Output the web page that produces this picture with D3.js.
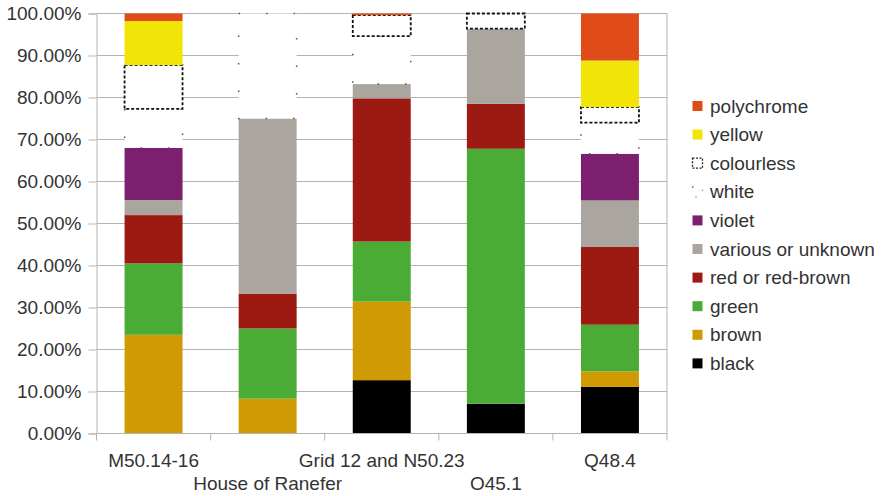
<!DOCTYPE html>
<html>
<head>
<meta charset="utf-8">
<script src="https://cdn.jsdelivr.net/npm/d3@7"></script>
<style>
  html, body { margin: 0; padding: 0; background: #fff; }
  svg { display: block; font-family: "Liberation Sans", Arial, sans-serif; }
</style>
</head>
<body>
<svg id="chart" width="885" height="496"></svg>
<script>
// ---- data (percent of each site) ----
const categories = ["M50.14-16", "House of Ranefer", "Grid 12 and N50.23", "O45.1", "Q48.4"];
const seriesNames = ["black", "brown", "green", "red or red-brown", "various or unknown",
                     "violet", "white", "colourless", "yellow", "polychrome"];
const black      = [0,    0,    12.7, 7.1,  11.1];
const brown      = [23.5, 8.3,  18.7, 0,    3.7];
const green      = [17.0, 16.7, 14.3, 60.7, 11.1];
const redBrown   = [11.5, 8.3,  34.1, 10.7, 18.5];
const various    = [3.6,  41.7, 3.4,  17.9, 11.1];
const violet     = [12.4, 0,    0,    0,    11.1];
const white      = [9.3,  25.0, 11.4, 0,    7.4];
const colourless = [10.4, 0,    5.0,  3.6,  3.7];
const yellow     = [10.5, 0,    0,    0,    11.1];
const polychrome = [1.8,  0,    0.4,  0,    11.2];
const yTicks = [0, 10, 20, 30, 40, 50, 60, 70, 80, 90, 100];

const seriesValues = [black, brown, green, redBrown, various, violet, white, colourless, yellow, polychrome];
const colors = {
  "black": "#000000", "brown": "#d09a02", "green": "#4aab35", "red or red-brown": "#9d1a13",
  "various or unknown": "#aaa59f", "violet": "#7c1f6f", "white": "#ffffff",
  "colourless": "#ffffff", "yellow": "#f3e408", "polychrome": "#e04c17"
};

const rows = categories.map((c, i) => {
  const r = { cat: c };
  seriesNames.forEach((s, k) => r[s] = seriesValues[k][i]);
  return r;
});
const stacked = d3.stack().keys(seriesNames)(rows);

const svg = d3.select("#chart");
const m = { left: 96.5, right: 667, top: 13.5, bottom: 433.5 };

const x = d3.scaleBand().domain(categories).range([m.left, m.right])
  .paddingInner(0.492).paddingOuter(0.246);
const y = d3.scaleLinear().domain([0, 100]).range([m.bottom, m.top]);
const gridColor = "#b3b3b3";
const textColor = "#333333";

// gridlines
svg.append("g").selectAll("line").data(yTicks).join("line")
  .attr("x1", m.left).attr("x2", m.right)
  .attr("y1", d => y(d)).attr("y2", d => y(d))
  .attr("stroke", gridColor).attr("stroke-width", 1);
// right border
svg.append("line").attr("x1", m.right).attr("x2", m.right)
  .attr("y1", m.top).attr("y2", m.bottom).attr("stroke", gridColor);

// bars
const layers = svg.append("g").selectAll("g").data(stacked).join("g");
layers.selectAll("rect").data(d => d.map(v => ({ key: d.key, v })))
  .join("rect")
  .attr("x", d => x(d.v.data.cat))
  .attr("width", x.bandwidth())
  .attr("y", d => y(d.v[1]))
  .attr("height", d => Math.max(0, y(d.v[0]) - y(d.v[1])))
  .attr("fill", d => colors[d.key])
  .attr("display", d => (d.v[1] - d.v[0]) > 0 ? null : "none")
  .each(function(d) {
    const s = d3.select(this);
    if (d.key === "colourless") {
      s.attr("stroke", "#111").attr("stroke-width", 1.8).attr("stroke-dasharray", "3,2");
    } else if (d.key === "white") {
      s.attr("stroke", "#555").attr("stroke-width", 1.5).attr("stroke-dasharray", "1.5,26");
    }
  });

// y axis
const yAxis = d3.axisLeft(y).tickValues(yTicks).tickSize(8).tickPadding(7)
  .tickFormat(d => d.toFixed(2) + "%");
const gy = svg.append("g").attr("transform", `translate(${m.left},0)`).call(yAxis);
gy.select(".domain").attr("stroke", gridColor);
gy.selectAll(".tick line").attr("stroke", gridColor);
gy.selectAll(".tick text").attr("fill", textColor).style("font-size", "19px")
  .style("font-family", '"Liberation Sans", Arial, sans-serif');

// x axis line + boundary ticks
svg.append("line").attr("x1", m.left).attr("x2", m.right)
  .attr("y1", m.bottom).attr("y2", m.bottom).attr("stroke", gridColor);
const bounds = d3.range(categories.length + 1).map(i => m.left + i * x.step());
svg.append("g").selectAll("line").data(bounds).join("line")
  .attr("x1", d => d).attr("x2", d => d)
  .attr("y1", m.bottom).attr("y2", m.bottom + 7)
  .attr("stroke", gridColor);
svg.append("g").selectAll("text").data(categories).join("text")
  .attr("x", d => x(d) + x.bandwidth() / 2)
  .attr("y", (d, i) => i % 2 === 0 ? 467 : 490)
  .attr("text-anchor", "middle")
  .attr("fill", textColor).style("font-size", "19px")
  .text(d => d);

// legend (top to bottom: reverse stacking)
const legendItems = seriesNames.slice().reverse();
const lg = svg.append("g").selectAll("g").data(legendItems).join("g")
  .attr("transform", (d, i) => `translate(692, ${106 + i * 28.6})`);
lg.append("rect")
  .attr("x", 0.5).attr("y", -5).attr("width", 10).attr("height", 10)
  .attr("fill", d => colors[d])
  .each(function(d) {
    const s = d3.select(this);
    if (d === "colourless") {
      s.attr("stroke", "#222").attr("stroke-width", 1.3).attr("stroke-dasharray", "2,1.5");
    } else if (d === "white") {
      s.attr("stroke", "#666").attr("stroke-width", 1.2).attr("stroke-dasharray", "1,12");
    }
  });
lg.append("text").attr("x", 18).attr("y", 0).attr("dy", "0.35em")
  .attr("fill", textColor).style("font-size", "19px")
  .text(d => d);
</script>
</body>
</html>
